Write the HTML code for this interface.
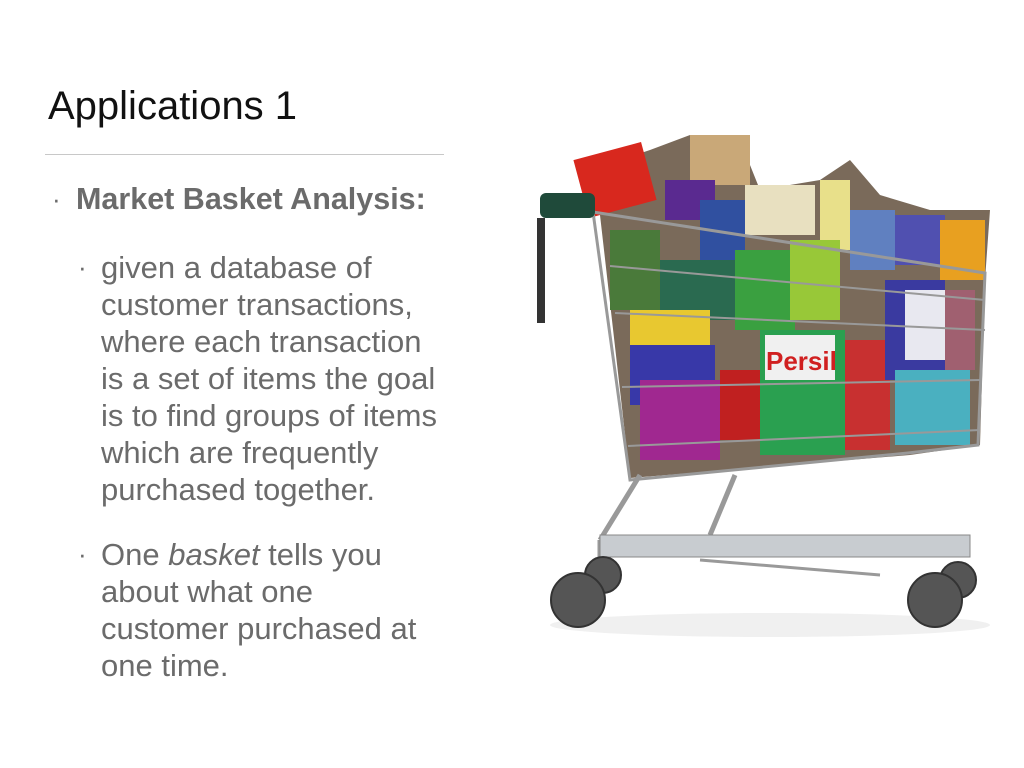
<!DOCTYPE html>
<html><head><meta charset="utf-8"><style>
body{margin:0;width:1024px;height:768px;background:#fff;overflow:hidden;position:relative;font-family:"Liberation Sans",sans-serif;color:#6b6b6b}
.t{position:absolute;white-space:nowrap}
</style></head><body>
<div class="t" style="left:48px;top:84px;font-size:40px;color:#111">Applications 1</div>
<div style="position:absolute;left:45px;top:154px;width:399px;height:1px;background:#c8c8c8"></div>
<div class="t" style="left:52px;top:182px;font-size:26px;line-height:34px">·</div>
<div class="t" style="left:76px;top:182px;font-size:30.5px;line-height:34px;font-weight:bold">Market Basket Analysis:</div>
<div class="t" style="left:78px;top:249px;font-size:26px;line-height:37px">·</div>
<div class="t" style="left:101px;top:249px;font-size:31px;line-height:37px">given a database of<br>customer transactions,<br>where each transaction<br>is a set of items the goal<br>is to find groups of items<br>which are frequently<br>purchased together.</div>
<div class="t" style="left:78px;top:536px;font-size:26px;line-height:37px">·</div>
<div class="t" style="left:101px;top:536px;font-size:31px;line-height:37px">One <i>basket</i> tells you<br>about what one<br>customer purchased at<br>one time.</div>
<svg style="position:absolute;left:0;top:0" width="1024" height="768">
<ellipse cx="770" cy="625" rx="220" ry="12" fill="#f0f0f0"/>
<g>
<polygon points="600,215 620,160 650,150 690,135 740,140 760,190 820,180 850,160 880,195 930,210 990,210 985,280 980,445 910,455 630,478" fill="#7a6a5a"/>
<rect x="580" y="150" width="70" height="60" fill="#d8281e" transform="rotate(-15 615 180)"/>
<rect x="690" y="135" width="60" height="50" fill="#c9a878"/>
<rect x="665" y="180" width="50" height="40" fill="#5a2a90"/>
<rect x="700" y="200" width="45" height="60" fill="#3050a0"/>
<rect x="745" y="185" width="70" height="50" fill="#e8e0c0"/>
<rect x="820" y="180" width="30" height="70" fill="#e8e08a"/>
<rect x="850" y="210" width="45" height="60" fill="#6080c0"/>
<rect x="895" y="215" width="50" height="50" fill="#5050b0"/>
<rect x="940" y="220" width="45" height="60" fill="#e8a020"/>
<rect x="610" y="230" width="50" height="80" fill="#4a7a3a"/>
<rect x="660" y="260" width="75" height="60" fill="#2a6a50"/>
<rect x="735" y="250" width="60" height="80" fill="#3aa040"/>
<rect x="790" y="240" width="50" height="80" fill="#98c838"/>
<rect x="630" y="310" width="80" height="45" fill="#e8c830"/>
<rect x="630" y="345" width="85" height="60" fill="#3838a8"/>
<rect x="640" y="380" width="80" height="80" fill="#a02890"/>
<rect x="720" y="370" width="45" height="70" fill="#c02020"/>
<rect x="760" y="330" width="85" height="125" fill="#2aa050"/>
<rect x="765" y="335" width="70" height="45" fill="#f0f0f0"/>
<text x="766" y="370" font-family="Liberation Sans" font-weight="bold" font-size="26" fill="#d02020">Persil</text>
<rect x="845" y="340" width="45" height="110" fill="#c83030"/>
<rect x="885" y="280" width="60" height="100" fill="#3a3aa0"/>
<rect x="905" y="290" width="40" height="70" fill="#e8e8f0"/>
<rect x="895" y="370" width="75" height="75" fill="#4ab0c0"/>
<rect x="945" y="290" width="30" height="80" fill="#a06070"/>
</g>
<g stroke="#999" fill="none">
<polygon points="593,212 985,273 978,445 908,453 630,480" stroke-width="3"/>
<line x1="610" y1="266" x2="985" y2="300" stroke-width="2"/>
<line x1="615" y1="313" x2="985" y2="330" stroke-width="2"/>
<line x1="622" y1="387" x2="980" y2="380" stroke-width="2"/>
<line x1="628" y1="446" x2="980" y2="430" stroke-width="2"/>
<path d="M640,475 L600,540 M735,475 L710,535 M600,540 L600,590" stroke-width="5"/>
<rect x="600" y="535" width="370" height="22" fill="#c8ccd0" stroke="#888"/>
<path d="M700,560 L880,575" stroke-width="3"/>
</g>
<g>
<rect x="540" y="193" width="55" height="25" rx="6" fill="#1f4a3a"/>
<rect x="537" y="218" width="8" height="105" fill="#333"/>
</g>
<g fill="#555" stroke="#333" stroke-width="2">
<circle cx="603" cy="575" r="18"/>
<circle cx="578" cy="600" r="27"/>
<circle cx="958" cy="580" r="18"/>
<circle cx="935" cy="600" r="27"/>
</g>
</svg>
</body></html>
